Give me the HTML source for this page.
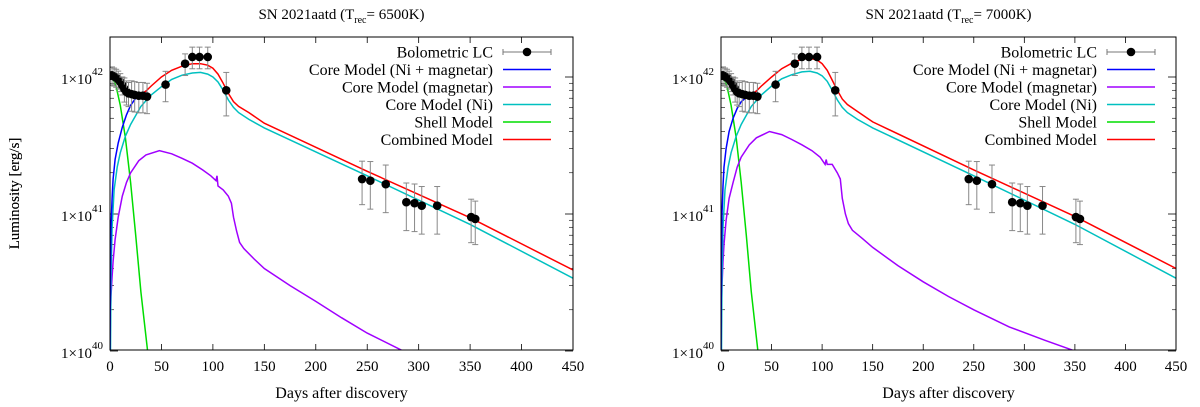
<!DOCTYPE html>
<html><head><meta charset="utf-8">
<style>
html,body{margin:0;padding:0;background:#fff;}
svg{display:block;font-family:"Liberation Serif",serif;}
</style></head>
<body>
<svg id="fig" width="1200" height="407" viewBox="0 0 1200 407" xmlns="http://www.w3.org/2000/svg"></svg>
<script>
// ---- data (luminosity in units of 1e41 erg/s) ----
const obsDays = [0,2,4,6,8,10,12,14,16,18,21,24,28,32,36,54,73,80,87,95,113,245,253,268,288,296,303,318,351,355];
const obsLum  = [10.2,10.3,10.1,9.9,9.6,9.2,8.7,8.2,7.8,7.6,7.5,7.4,7.3,7.3,7.2,8.8,12.5,14,14,14,8,1.8,1.75,1.65,1.22,1.2,1.15,1.15,0.95,0.92];
const obsErr  = [0.15,0.15,0.15,0.15,0.15,0.15,0.15,0.2,0.2,0.2,0.25,0.25,0.25,0.25,0.25,0.25,0.18,0.18,0.18,0.18,0.35,0.35,0.38,0.38,0.38,0.38,0.38,0.38,0.35,0.35];

const xTicks = [0,50,100,150,200,250,300,350,400,450];
const yTickExp = [40,41,42];

// combined model (red)
const redDays = [0,3,6,10,15,20,25,30,35,40,50,60,70,80,88,95,100,105,110,115,120,125,135,150,250,350,450];
const redLumA = [10,10.2,10,9.3,8.1,7.4,7.2,7.4,7.9,8.6,10,11.2,12,12.5,12.5,12.2,11.6,10.5,9,7.6,6.6,6.1,5.5,4.6,2.05,0.94,0.39];
const redLumB = [10,10.2,10,9.3,8.1,7.4,7.2,7.4,7.9,8.6,10,11.5,12.6,13.5,13.7,13.3,12.5,11.2,9.5,8,6.9,6.3,5.6,4.7,2.1,0.96,0.4];
// Ni + magnetar (blue)
const blueDays = [0,0.5,1,2,3,5,8,12,16,20,25,30,35];
const blueLumA = [0.1,0.4,0.8,1.3,1.8,2.5,3.3,4.3,5.3,6.2,7,7.4,7.9];
const blueLumB = [0.1,0.5,1,1.6,2.2,3,4,5,5.9,6.6,7.1,7.4,7.9];
// magnetar only (purple)
const purDays = [0,0.5,1,2,3,5,8,12,16,20,28,35,48,60,70,80,90,98,103,104,105,110,115,118,120,123,126,130,140,150,175,200,225,250,285,320,350];
const purLumA = [0.1,0.18,0.25,0.35,0.45,0.65,0.95,1.35,1.7,2.0,2.45,2.7,2.9,2.75,2.55,2.35,2.1,1.9,1.75,1.9,1.6,1.5,1.35,1.2,0.95,0.75,0.62,0.56,0.47,0.4,0.3,0.23,0.175,0.135,0.1,0.075,0.06];
const purLumB = [0.1,0.2,0.3,0.45,0.6,0.9,1.3,1.7,2.2,2.6,3.2,3.6,4,3.8,3.5,3.2,2.9,2.6,2.3,2.5,2.3,2.3,2.0,1.8,1.3,1.0,0.85,0.76,0.66,0.57,0.42,0.32,0.25,0.2,0.15,0.12,0.1];
// Ni only (cyan)
const cyanDays = [0.5,1,2,4,7,10,15,20,30,40,50,60,70,80,88,95,100,105,110,115,120,125,135,150,250,350,450];
const cyanLumA = [0.1,0.35,0.8,1.5,2.2,2.8,3.7,4.5,6.1,7.4,8.5,9.6,10.3,10.7,10.8,10.5,10,9.2,8,6.8,6,5.5,4.9,4.25,1.9,0.84,0.34];
const cyanLumB = [0.1,0.35,0.8,1.5,2.2,2.8,3.7,4.5,6.1,7.4,8.6,9.7,10.4,10.9,11,10.7,10.2,9.3,8,6.8,6,5.5,4.9,4.25,1.9,0.84,0.34];
// shell (green)
const greenDays = [0,3,6,10,15,20,25,30,36.5];
const greenLum  = [10,9.6,8.5,6.2,3.6,1.7,0.7,0.27,0.1];

const legendLabels = ["Bolometric LC","Core Model (Ni + magnetar)","Core Model (magnetar)","Core Model (Ni)","Shell Model","Combined Model"];
const legendColors = ["#777","#0000ff","#a000ff","#00c0c0","#00dd00","#ff0000"];

const NS="http://www.w3.org/2000/svg";
const svg=document.getElementById('fig');
function mk(tag,attrs,parent){const e=document.createElementNS(NS,tag);for(const k in attrs)e.setAttribute(k,attrs[k]);(parent||svg).appendChild(e);return e;}

function panel(P){
  const g=mk('g',{});
  
  
  const L=P.l,R=P.r,T=37,B=350;
  const sx=d=>L+(d/450)*(R-L);
  const decade=137, y42=77;
  const sy=v=>y42-(Math.log10(v*1e41)-42)*decade; // v in 1e41
  const clip='clip'+P.id;
  const cp=mk('clipPath',{id:clip},g);mk('rect',{x:L,y:T,width:R-L,height:B-T},cp);
  const t=mk('text',{x:(L+R)/2,y:19,'text-anchor':'middle','font-size':15},g);
  
  t.innerHTML='SN 2021aatd (T<tspan font-size="10" dy="4">rec</tspan><tspan dy="-4">= '+P.trec+'K)</tspan>';
  const yl=mk('text',{x:0,y:0,transform:'translate(19,'+((T+B)/2)+') rotate(-90)','text-anchor':'middle','font-size':15},g);
  
  yl.textContent='Luminosity [erg/s]';
  const xl=mk('text',{x:(L+R)/2,y:398,'text-anchor':'middle','font-size':16},g);
  
  xl.textContent='Days after discovery';
  xTicks.forEach(d=>{
    const x=sx(d);
    mk('line',{x1:x,y1:B,x2:x,y2:B-6,stroke:'#000','stroke-width':0.8},g);
    mk('line',{x1:x,y1:T,x2:x,y2:T+6,stroke:'#000','stroke-width':0.8},g);
    const tx=mk('text',{x:x,y:371,'text-anchor':'middle','font-size':15},g);
    
    tx.textContent=d;
  });
  yTickExp.forEach(e=>{
    const y=sy(Math.pow(10,e-41));
    mk('line',{x1:L,y1:y,x2:L+8,y2:y,stroke:'#000','stroke-width':0.8},g);
    mk('line',{x1:R,y1:y,x2:R-8,y2:y,stroke:'#000','stroke-width':0.8},g);
    const ty=mk('text',{x:L-7,y:y+7,'text-anchor':'end','font-size':15},g);
    
    ty.innerHTML='1×10<tspan font-size="11" dy="-9">'+e+'</tspan>';
    if(e<42){for(let m=2;m<10;m++){const ym=sy(m*Math.pow(10,e-41));if(ym<T)continue;
      mk('line',{x1:L,y1:ym,x2:L+4,y2:ym,stroke:'#000','stroke-width':0.6},g);
      mk('line',{x1:R,y1:ym,x2:R-4,y2:ym,stroke:'#000','stroke-width':0.6},g);}}
  });
  const cg=mk('g',{'clip-path':'url(#'+clip+')'},g);
  function line(days,lum,color,name){
    const p=mk('polyline',{points:days.map((d,i)=>sx(d).toFixed(1)+','+sy(lum[i]).toFixed(1)).join(' '),fill:'none',stroke:color,'stroke-width':1.5},cg);
    
  }
  line(greenDays,greenLum,'#00dd00','shell-model-line');
  line(purDays,P.pur,'#a000ff','magnetar-model-line');
  line(cyanDays,P.cyan,'#00c0c0','ni-model-line');
  line(blueDays,P.blue,'#0000ff','ni-magnetar-model-line');
  line(redDays,P.red,'#ff0000','combined-model-line');
  obsDays.forEach((d,i)=>{
    const x=sx(d),v=obsLum[i],e=obsErr[i];
    const y1=sy(v*(1+e)),y2=sy(v*(1-e));
    mk('line',{x1:x,y1:y1,x2:x,y2:y2,stroke:'#888','stroke-width':1},cg);
    mk('line',{x1:x-3,y1:y1,x2:x+3,y2:y1,stroke:'#888','stroke-width':1},cg);
    mk('line',{x1:x-3,y1:y2,x2:x+3,y2:y2,stroke:'#888','stroke-width':1},cg);
    const c=mk('circle',{cx:x,cy:sy(v),r:4.3,fill:'#000'},cg);
    
  });
  const lx=P.legX;
  legendLabels.forEach((lab,i)=>{
    const y=52+i*17.5;
    const tt=mk('text',{x:lx,y:y+5.5,'text-anchor':'end','font-size':16},g);
    
    tt.textContent=lab;
    mk('line',{x1:lx+10,y1:y,x2:lx+58,y2:y,stroke:legendColors[i],'stroke-width':i==0?1:1.5},g);
    if(i==0){mk('line',{x1:lx+10,y1:y-3,x2:lx+10,y2:y+3,stroke:'#777'},g);mk('line',{x1:lx+58,y1:y-3,x2:lx+58,y2:y+3,stroke:'#777'},g);mk('circle',{cx:lx+34,cy:y,r:4.3,fill:'#000'},g);}
  });
  mk('rect',{x:L,y:T,width:R-L,height:B-T,fill:'none',stroke:'#000','stroke-width':1},g);
}
panel({id:'a',name:'panel-6500k',l:110,r:573,trec:6500,legX:493,red:redLumA,blue:blueLumA,pur:purLumA,cyan:cyanLumA});
panel({id:'b',name:'panel-7000k',l:721,r:1176,trec:7000,legX:1097,red:redLumB,blue:blueLumB,pur:purLumB,cyan:cyanLumB});
</script>
</body></html>
